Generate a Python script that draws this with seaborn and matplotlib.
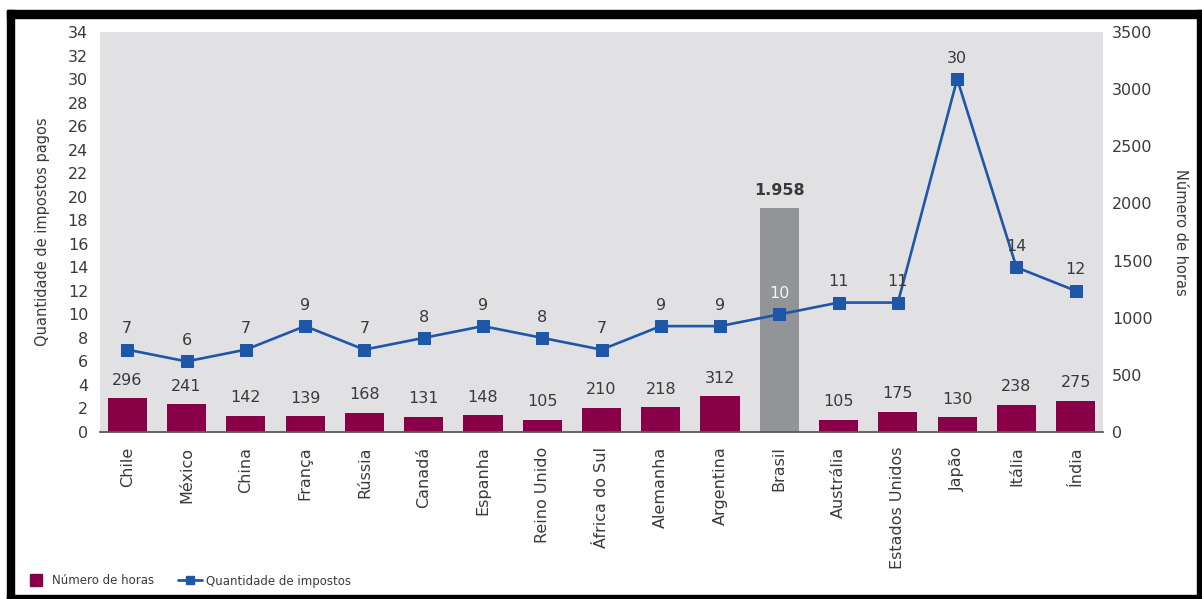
import matplotlib
matplotlib.use("Agg")
import matplotlib.pyplot as plt
from matplotlib.lines import Line2D
from matplotlib.patches import Rectangle
import numpy as np
import pandas as pd
import seaborn as sns

# Data
countries = ["Chile", "México", "China", "França", "Rússia", "Canadá", "Espanha",
             "Reino Unido", "África do Sul", "Alemanha", "Argentina", "Brasil",
             "Austrália", "Estados Unidos", "Japão", "Itália", "Índia"]
hours = [296, 241, 142, 139, 168, 131, 148, 105, 210, 218, 312, 1958,
         105, 175, 130, 238, 275]
taxes = [7, 6, 7, 9, 7, 8, 9, 8, 7, 9, 9, 10, 11, 11, 30, 14, 12]
hour_labels = ["296", "241", "142", "139", "168", "131", "148", "105", "210",
               "218", "312", "1.958", "105", "175", "130", "238", "275"]
left_ticks = list(range(0, 35, 2))
right_ticks = list(range(0, 3501, 500))

highlight = "Brasil"
BAR = "#8a0048"
BAR_HL = "#939497"
LINE = "#1f57a8"
BG = "#e1e1e3"
TXT = "#3a3a3a"

df = pd.DataFrame({"pais": countries, "horas": hours, "impostos": taxes})
df["pos"] = np.arange(len(df))
palette = {c: (BAR_HL if c == highlight else BAR) for c in countries}

sns.set_theme(style="white")
plt.rcParams["font.family"] = ["DejaVu Sans"]

W, H = 1202, 599
fig = plt.figure(figsize=(W / 100, H / 100), dpi=100)
fig.patch.set_facecolor("white")

ax = fig.add_axes([100 / W, 1 - 432 / H, 1003 / W, 400 / H])
ax_h = ax.twinx()

# Bars: hours (right axis)
sns.barplot(data=df, x="pos", y="horas", hue="pais", palette=palette,
            dodge=False, legend=False, width=0.66, saturation=1,
            native_scale=True, linewidth=0, edgecolor="none", ax=ax_h)
ax_h.set_ylim(0, 3500)
ax_h.set_yticks(right_ticks)
ax_h.set_yticklabels([str(t) for t in right_ticks])
ax_h.set_facecolor(BG)
ax_h.patch.set_visible(True)
for i, (v, lab) in enumerate(zip(hours, hour_labels)):
    bold = countries[i] == highlight
    ax_h.annotate(lab, (i, v), xytext=(0, 13), textcoords="offset points",
                  ha="center", va="center", fontsize=11.5, color=TXT,
                  fontweight="bold" if bold else "normal")

# Line: number of taxes (left axis)
sns.lineplot(data=df, x="pos", y="impostos", color=LINE, linewidth=1.9,
             marker="s", markersize=8.5, markeredgecolor=LINE, ax=ax)
ax.set_ylim(0, 34)
ax.set_yticks(left_ticks)
ax.set_yticklabels([str(t) for t in left_ticks])
for i, v in enumerate(taxes):
    col = "#f4f4f4" if countries[i] == highlight else TXT
    ax.annotate(str(v), (i, v), xytext=(0, 15), textcoords="offset points",
                ha="center", va="center", fontsize=11.5, color=col)

ax.set_zorder(ax_h.get_zorder() + 1)
ax.patch.set_visible(False)

ax.set_xlim(-0.46, len(countries) - 0.54)
ax.set_xticks(np.arange(len(countries)))
ax.set_xticklabels(countries, rotation=90, ha="center", va="top")
ax.set_xlabel("")

for a in (ax, ax_h):
    for s in ("top", "left", "right", "bottom"):
        a.spines[s].set_visible(False)
ax.spines["bottom"].set_visible(True)
ax.spines["bottom"].set_color("#5a5a5a")
ax.spines["bottom"].set_linewidth(1.3)
ax.grid(False)
ax_h.grid(False)

ax.tick_params(axis="x", length=0, pad=10.5, labelsize=11.5, labelcolor=TXT)
ax.tick_params(axis="y", length=0, pad=8.5, labelsize=11.5, labelcolor=TXT)
ax_h.tick_params(axis="y", length=0, pad=6.5, labelsize=11.5, labelcolor=TXT)

ax.set_ylabel("Quantidade de impostos pagos", fontsize=10.5, color=TXT,
              va="center")
ax.yaxis.set_label_coords(-0.057, 0.5)
ax_h.set_ylabel("Número de horas", fontsize=10.5, color=TXT, rotation=270,
                va="center")
ax_h.yaxis.set_label_coords(1.077, 0.5)

# Legend
handles = [
    Line2D([], [], marker="s", color=BAR, linestyle="none", markersize=8),
    Line2D([], [], marker="s", color=LINE, linewidth=2, markersize=5.5),
]
leg = fig.legend(handles, ["Número de horas", "Quantidade de impostos"],
                 loc="center left", bbox_to_anchor=(24 / W, 1 - 581 / H),
                 ncol=2, frameon=False, fontsize=8.5, handlelength=2.0,
                 handletextpad=0.4, columnspacing=2.0, borderaxespad=0,
                 borderpad=0)
for t in leg.get_texts():
    t.set_color(TXT)

# Page frame
for x0, y0, w, h in [(7, 10, 1195, 8), (7, 10, 7, 589), (7, 595, 1195, 4),
                     (1197, 10, 5, 589)]:
    fig.patches.append(Rectangle((x0 / W, 1 - (y0 + h) / H), w / W, h / H,
                                 transform=fig.transFigure, color="black",
                                 zorder=10))

fig.savefig("out.png", dpi=100, facecolor="white")
